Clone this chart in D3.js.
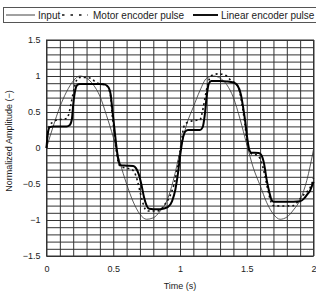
<!DOCTYPE html>
<html><head><meta charset="utf-8">
<script src="https://cdn.jsdelivr.net/npm/d3@7"></script>
<style>
html,body{margin:0;padding:0;background:#fff;}
svg{display:block;}
text{font-family:"Liberation Sans",Arial,sans-serif;fill:#222;}
</style></head>
<body>
<svg id="c" width="316" height="293"></svg>
<script>
const xTicks = [0, 0.5, 1, 1.5, 2];
const yTicks = [1.5, 1, 0.5, 0, -0.5, -1, -1.5];
const seriesNames = ["Input", "Motor encoder pulse", "Linear encoder pulse"];

const inputT = [0,0.05,0.10,0.15,0.20,0.25,0.30,0.35,0.40,0.45,0.50,0.55,0.60,0.65,0.70,0.75,0.80,0.85,0.90,0.95,1.00,1.05,1.10,1.15,1.20,1.25,1.30,1.35,1.40,1.45,1.50,1.55,1.60,1.65,1.70,1.75,1.80,1.85,1.90,1.95,2.00];
const inputV = [0,0.30,0.57,0.78,0.93,1.0,0.97,0.88,0.72,0.45,0.15,-0.20,-0.50,-0.75,-0.92,-0.99,-0.97,-0.88,-0.74,-0.45,-0.05,0.33,0.57,0.80,0.97,1.0,0.97,0.88,0.70,0.40,0.05,-0.28,-0.52,-0.76,-0.92,-0.99,-0.96,-0.86,-0.72,-0.45,-0.02];

const motorT = [0,0.01,0.025,0.05,0.08,0.12,0.15,0.165,0.18,0.195,0.21,0.225,0.25,0.30,0.34,0.37,0.40,0.44,0.465,0.48,0.49,0.505,0.52,0.535,0.55,0.60,0.64,0.66,0.68,0.70,0.72,0.74,0.76,0.80,0.85,0.875,0.91,0.935,0.96,0.98,1.0,1.015,1.03,1.06,1.10,1.15,1.165,1.18,1.20,1.22,1.24,1.29,1.35,1.38,1.42,1.445,1.465,1.485,1.50,1.515,1.535,1.58,1.60,1.62,1.64,1.66,1.68,1.70,1.75,1.80,1.85,1.88,1.92,1.95,1.975,2.0];
const motorV = [0,0.22,0.32,0.36,0.39,0.40,0.41,0.46,0.58,0.72,0.85,0.94,0.98,0.98,0.96,0.91,0.89,0.88,0.82,0.72,0.50,0.25,0.0,-0.18,-0.25,-0.28,-0.30,-0.34,-0.45,-0.60,-0.75,-0.85,-0.875,-0.875,-0.87,-0.81,-0.72,-0.62,-0.47,-0.28,-0.05,0.15,0.30,0.36,0.38,0.39,0.48,0.62,0.82,0.96,1.01,1.03,1.00,0.94,0.89,0.80,0.60,0.35,0.12,-0.03,-0.08,-0.10,-0.15,-0.26,-0.42,-0.60,-0.74,-0.80,-0.805,-0.805,-0.80,-0.75,-0.66,-0.61,-0.55,-0.42];

const linearT = [0,0.01,0.025,0.05,0.10,0.15,0.175,0.19,0.20,0.215,0.23,0.25,0.30,0.35,0.40,0.44,0.465,0.48,0.495,0.51,0.525,0.54,0.555,0.60,0.65,0.67,0.69,0.71,0.73,0.75,0.77,0.80,0.85,0.88,0.91,0.94,0.965,0.985,1.0,1.02,1.04,1.06,1.10,1.15,1.17,1.185,1.20,1.215,1.235,1.30,1.35,1.40,1.43,1.455,1.47,1.49,1.505,1.52,1.535,1.56,1.59,1.61,1.63,1.65,1.67,1.685,1.70,1.75,1.80,1.85,1.90,1.93,1.955,1.975,1.99,2.0];
const linearV = [0,0.20,0.29,0.30,0.30,0.30,0.32,0.40,0.60,0.80,0.875,0.89,0.89,0.89,0.89,0.88,0.84,0.75,0.50,0.25,0.0,-0.18,-0.24,-0.245,-0.25,-0.28,-0.36,-0.50,-0.68,-0.80,-0.845,-0.85,-0.85,-0.84,-0.82,-0.74,-0.58,-0.35,-0.12,0.12,0.23,0.25,0.25,0.25,0.29,0.45,0.72,0.89,0.93,0.93,0.925,0.91,0.87,0.75,0.60,0.35,0.12,-0.03,-0.065,-0.065,-0.07,-0.10,-0.22,-0.45,-0.62,-0.72,-0.745,-0.745,-0.745,-0.745,-0.74,-0.70,-0.64,-0.59,-0.52,-0.47];

const svg = d3.select("#c");
const L = 46.5, R = 313.5, T = 40, B = 256;
const x = d3.scaleLinear().domain([0, 2]).range([L, R]);
const y = d3.scaleLinear().domain([-1.5, 1.5]).range([B, T]);

// grid
const gx = d3.range(0, 21).map(i => i / 10);
const gy = d3.range(-15, 16).map(i => i / 10);
svg.append("g").attr("transform", `translate(0,${B})`)
  .call(d3.axisBottom(x).tickValues(gx).tickSize(-(B - T)).tickFormat(""))
  .call(g => g.select(".domain").remove())
  .call(g => g.selectAll("line").attr("stroke", "#333").attr("stroke-width", 1));
svg.append("g").attr("transform", `translate(${L},0)`)
  .call(d3.axisLeft(y).tickValues(gy).tickSize(-(R - L)).tickFormat(""))
  .call(g => g.select(".domain").remove())
  .call(g => g.selectAll("line").attr("stroke", "#333").attr("stroke-width", 1));
svg.append("rect").attr("x", L).attr("y", T).attr("width", R - L).attr("height", B - T)
  .attr("fill", "none").attr("stroke", "#333").attr("stroke-width", 1);

// tick labels
const fmt = v => (v < 0 ? "\u2212" : "") + String(Math.abs(v));
svg.append("g").attr("transform", `translate(${L - 6},0)`)
  .call(d3.axisLeft(y).tickValues(yTicks).tickSize(0).tickPadding(0).tickFormat(fmt))
  .call(g => g.select(".domain").remove())
  .call(g => g.selectAll("text").attr("font-size", 9).attr("fill", "#222").attr("font-family", "Liberation Sans, Arial, sans-serif"));
svg.append("g").attr("transform", `translate(0,${B + 10})`)
  .call(d3.axisBottom(x).tickValues(xTicks).tickSize(0).tickPadding(0).tickFormat(fmt))
  .call(g => g.select(".domain").remove())
  .call(g => g.selectAll("text").attr("font-size", 9).attr("fill", "#222").attr("font-family", "Liberation Sans, Arial, sans-serif"));

// axis titles
svg.append("text").attr("x", 180).attr("y", 289).attr("text-anchor", "middle")
  .attr("font-size", 9).text("Time (s)");
svg.append("text").attr("transform", "translate(12,141) rotate(-90)").attr("text-anchor", "middle")
  .attr("font-size", 9).text("Normalized Amplitude (\u2212)");

// lines
const line = d3.line().x(d => x(d[0])).y(d => y(d[1])).curve(d3.curveMonotoneX);
const zip = (a, b) => a.map((t, i) => [t, b[i]]);
svg.append("path").datum(zip(inputT, inputV)).attr("d", line)
  .attr("fill", "none").attr("stroke", "#333").attr("stroke-width", 0.8);
svg.append("path").datum(zip(motorT, motorV)).attr("d", line)
  .attr("fill", "none").attr("stroke", "#111").attr("stroke-width", 1.6).attr("stroke-dasharray", "2,3");
svg.append("path").datum(zip(linearT, linearV)).attr("d", line)
  .attr("fill", "none").attr("stroke", "#000").attr("stroke-width", 2);

// legend
const lg = svg.append("g");
lg.append("rect").attr("x", 3.5).attr("y", 7.5).attr("width", 320).attr("height", 15)
  .attr("fill", "#fff").attr("stroke", "#555").attr("stroke-width", 1);
const items = [
  {name: seriesNames[0], x1: 6, x2: 35, tx: 38, w: 0.8, dash: null},
  {name: seriesNames[1], x1: 62, x2: 88, tx: 93, w: 1.6, dash: "2.5,6"},
  {name: seriesNames[2], x1: 193, x2: 218, tx: 221, w: 2, dash: null}
];
items.forEach(it => {
  lg.append("line").attr("x1", it.x1).attr("x2", it.x2).attr("y1", 15).attr("y2", 15)
    .attr("stroke", "#111").attr("stroke-width", it.w).attr("stroke-dasharray", it.dash);
  lg.append("text").attr("x", it.tx).attr("y", 18.5).attr("font-size", 10).text(it.name);
});
</script>
</body></html>
